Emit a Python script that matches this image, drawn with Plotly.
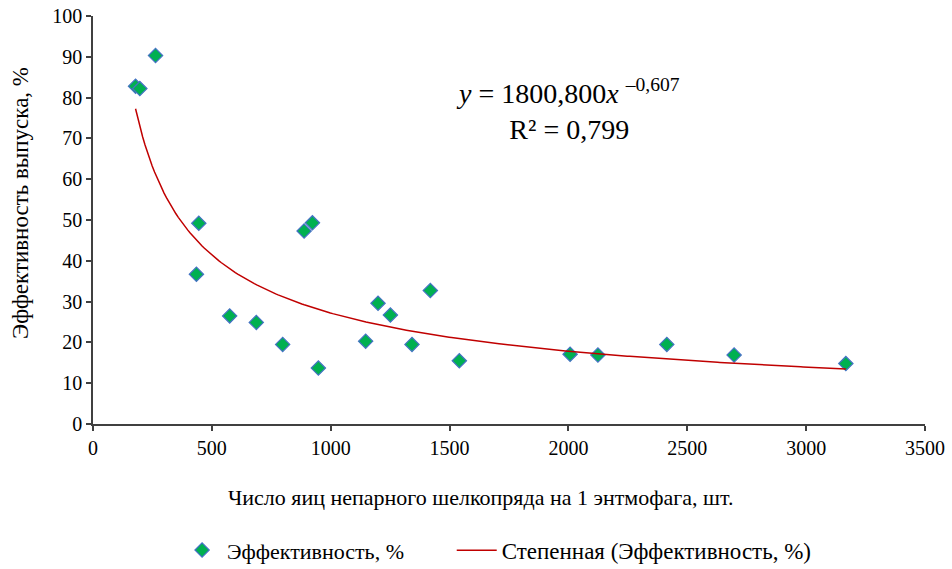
import numpy as np
import plotly.graph_objects as go

# Data
eggs = [179, 197, 263, 445, 435, 575, 687, 798, 888, 923, 948, 1147, 1199, 1251,
        1342, 1419, 1541, 2007, 2124, 2414, 2697, 3167]
efficiency = [82.8, 82.2, 90.3, 49.2, 36.7, 26.5, 24.9, 19.5, 47.3, 49.3, 13.7,
              20.3, 29.6, 26.7, 19.5, 32.7, 15.5, 17.1, 16.9, 19.5, 16.9, 14.8]

# Power trendline coefficients as shown on the chart
coef_a = 1800.8
coef_b = -0.607
r2_text = "0,799"

x_ticks = [0, 500, 1000, 1500, 2000, 2500, 3000, 3500]
y_ticks = [0, 10, 20, 30, 40, 50, 60, 70, 80, 90, 100]

trend_x = np.linspace(min(eggs), max(eggs), 300)
trend_y = coef_a * trend_x ** coef_b

FONT = "'Liberation Serif', 'Times New Roman', serif"

fig = go.Figure()
fig.add_trace(go.Scatter(
    x=eggs, y=efficiency, mode="markers",
    name="Эффективность, %", legend="legend",
    marker=dict(symbol="diamond", size=11, color="#00B050",
                line=dict(color="#4472C4", width=1.2)),
))
fig.add_trace(go.Scatter(
    x=trend_x, y=trend_y, mode="lines",
    name="Степенная (Эффективность, %)", legend="legend2",
    line=dict(color="#C00000", width=1.5),
))

legend_common = dict(orientation="h", y=0.033, yref="container", yanchor="middle",
                     xref="container", xanchor="left",
                     font=dict(family=FONT, size=22), itemwidth=40,
                     bgcolor="rgba(0,0,0,0)")

fig.update_layout(
    width=952, height=569,
    margin=dict(l=93, r=27, t=16, b=145, autoexpand=False),
    paper_bgcolor="white", plot_bgcolor="white",
    font=dict(family=FONT, size=20, color="black"),
    showlegend=True,
    legend=dict(legend_common, x=0.186),
    legend2=dict(legend_common, x=0.4745,
                 font=dict(family=FONT, size=23)),
    xaxis=dict(range=[0, 3500], tickvals=x_ticks, showgrid=False, zeroline=False,
               showline=True, linecolor="#404040", linewidth=1.5,
               ticks="outside", ticklen=5, tickcolor="#404040", tickwidth=1.5,
               tickfont=dict(family=FONT, size=20), mirror=False),
    yaxis=dict(range=[0, 100], tickvals=y_ticks, showgrid=False, zeroline=False,
               showline=True, linecolor="#404040", linewidth=1.5,
               ticks="outside", ticklen=5, tickcolor="#404040", tickwidth=1.5,
               tickfont=dict(family=FONT, size=20)),
    annotations=[
        dict(text="<i>y</i> = 1800,800<i>x</i> <sup>–0,607</sup><br>R² = " + r2_text,
             x=2000, y=77, xref="x", yref="y", showarrow=False,
             font=dict(family=FONT, size=28), align="center",
             xanchor="center", yanchor="middle"),
        dict(text="Число яиц непарного шелкопряда на 1 энтмофага, шт.",
             x=0.466, y=-0.18, xref="paper", yref="paper", showarrow=False,
             font=dict(family=FONT, size=22), xanchor="center", yanchor="middle"),
        dict(text="Эффективность выпуска, %", textangle=-90,
             x=-0.088, y=0.541, xref="paper", yref="paper", showarrow=False,
             font=dict(family=FONT, size=23), xanchor="center", yanchor="middle"),
    ],
)

fig.write_html("out.html")
